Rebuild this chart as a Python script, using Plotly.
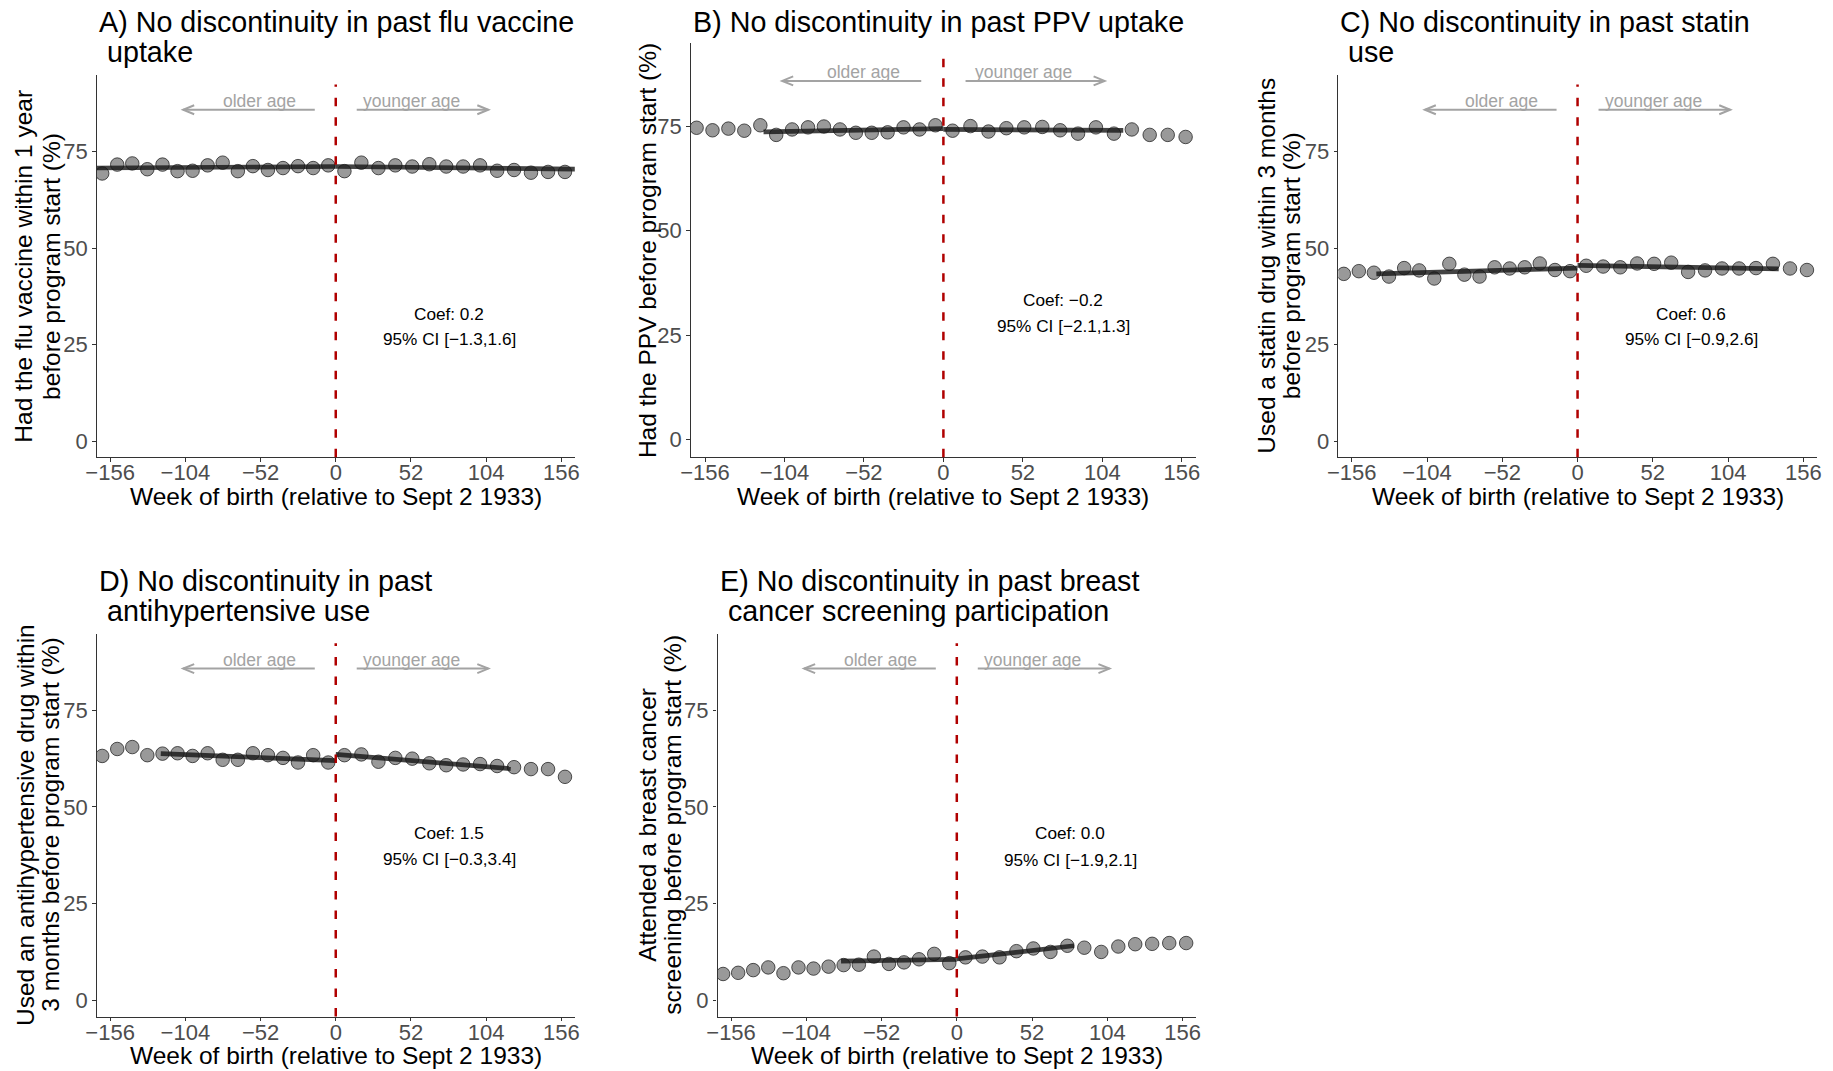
import plotly.graph_objects as go

W, H = 1833, 1071
FONT = "Liberation Sans, Arial, Helvetica, sans-serif"

# ---------------- data ----------------
week_left = [-161.5, -151.1, -140.7, -130.3, -119.8, -109.4, -99.0, -88.6,
             -78.2, -67.7, -57.3, -46.9, -36.5, -26.1, -15.6, -5.2]
week_right = [6.0, 17.7, 29.5, 41.2, 52.9, 64.7, 76.4, 88.1, 99.8, 111.6,
              123.3, 135.0, 146.8, 158.5]
x_ticks = [-156, -104, -52, 0, 52, 104, 156]
y_ticks = [0, 25, 50, 75]

flu_left = [69.3, 71.6, 71.9, 70.4, 71.6, 69.9, 70.0, 71.4, 72.1, 69.9, 71.2, 70.2, 70.7, 71.2, 70.7, 71.4]
flu_right = [69.9, 72.1, 70.7, 71.4, 71.1, 71.7, 71.1, 71.1, 71.4, 70.0, 70.2, 69.5, 69.7, 69.7]
flu_fit_left_x = [-170, 0]
flu_fit_left_y = [70.7, 71.1]
flu_fit_right_x = [0, 170]
flu_fit_right_y = [71.1, 70.4]

ppv_left = [74.6, 74.0, 74.4, 73.9, 75.2, 72.9, 74.2, 74.7, 74.9, 74.2, 73.4, 73.4, 73.5, 74.7, 74.2, 75.2]
ppv_right = [73.9, 75.0, 73.7, 74.5, 74.7, 74.8, 74.0, 73.2, 74.7, 73.2, 74.2, 72.9, 72.9, 72.4]
ppv_fit_left_x = [-117.7, 0]
ppv_fit_left_y = [73.6, 74.4]
ppv_fit_right_x = [0, 117.7]
ppv_fit_right_y = [74.2, 74.0]

statin_left = [43.3, 44.0, 43.6, 42.6, 44.8, 44.2, 42.1, 45.9, 43.1, 42.6, 45.0, 44.7, 45.0, 46.0, 44.3, 44.0]
statin_right = [45.4, 45.2, 45.0, 46.0, 45.9, 46.2, 43.8, 44.2, 44.7, 44.7, 44.8, 45.9, 44.7, 44.3]
statin_fit_left_x = [-139, 0]
statin_fit_left_y = [43.3, 44.8]
statin_fit_right_x = [0, 139]
statin_fit_right_y = [45.5, 44.6]

ah_left = [63.2, 65.0, 65.5, 63.4, 63.8, 63.9, 63.2, 63.9, 62.2, 62.2, 63.9, 63.4, 62.7, 61.5, 63.4, 61.5]
ah_right = [63.4, 63.6, 61.7, 62.7, 62.5, 61.3, 60.8, 61.0, 61.1, 60.6, 60.3, 59.8, 59.8, 57.8]
ah_fit_left_x = [-121, 0]
ah_fit_left_y = [63.8, 62.0]
ah_fit_right_x = [0, 121]
ah_fit_right_y = [63.6, 59.9]

br_left = [6.8, 7.1, 7.8, 8.5, 7.0, 8.5, 8.2, 8.7, 9.1, 9.2, 11.3, 9.4, 9.8, 10.6, 12.0, 9.6]
br_right = [11.1, 11.3, 11.1, 12.7, 13.4, 12.5, 14.1, 13.6, 12.5, 13.9, 14.5, 14.6, 14.8, 14.8]
br_fit_left_x = [-80, 0]
br_fit_left_y = [10.1, 10.6]
br_fit_right_x = [0, 81]
br_fit_right_y = [10.7, 14.1]

titles = [
    ["A) No discontinuity in past flu vaccine", "\u00a0uptake"],
    ["B) No discontinuity in past PPV uptake"],
    ["C) No discontinuity in past statin", "\u00a0use"],
    ["D) No discontinuity in past", "\u00a0antihypertensive use"],
    ["E) No discontinuity in past breast", "\u00a0cancer screening participation"],
]
y_titles = [
    ["Had the flu vaccine within 1 year", "before program start (%)"],
    ["Had the PPV before program start (%)"],
    ["Used a statin drug within 3 months", "before program start (%)"],
    ["Used an antihypertensive drug within", "3 months before program start (%)"],
    ["Attended a breast cancer", "screening before program start (%)"],
]
coef_texts = ["Coef: 0.2", "Coef: \u22120.2", "Coef: 0.6", "Coef: 1.5", "Coef: 0.0"]
ci_texts = ["95% CI [\u22121.3,1.6]", "95% CI [\u22122.1,1.3]", "95% CI [\u22120.9,2.6]",
            "95% CI [\u22120.3,3.4]", "95% CI [\u22121.9,2.1]"]
x_title = "Week of birth (relative to Sept 2 1933)"

# ---------------- layout geometry (pixels) ----------------
panels_px = [  # (left, right, top, bottom)
    (96.7, 574.8, 75.0, 457.3),
    (690.8, 1196.0, 43.3, 457.3),
    (1338.3, 1816.8, 75.0, 457.3),
    (96.7, 574.8, 633.8, 1016.5),
    (717.6, 1196.0, 633.8, 1016.5),
]
title_line_px = [(21.7, 51.7), (21.7,), (21.7, 51.7), (580.8, 611.3), (580.8, 611.3)]
ytitle_line_px = [(23.5, 50.8), (646.8,), (1266.5, 1291.0), (24.9, 50.6), (647.6, 671.7)]
coef_y = [(33.0, 26.4), (33.3, 27.1), (33.0, 26.4), (43.2, 36.6), (43.2, 36.4)]

series = [
    (flu_left, flu_right, flu_fit_left_x, flu_fit_left_y, flu_fit_right_x, flu_fit_right_y),
    (ppv_left, ppv_right, ppv_fit_left_x, ppv_fit_left_y, ppv_fit_right_x, ppv_fit_right_y),
    (statin_left, statin_right, statin_fit_left_x, statin_fit_left_y, statin_fit_right_x, statin_fit_right_y),
    (ah_left, ah_right, ah_fit_left_x, ah_fit_left_y, ah_fit_right_x, ah_fit_right_y),
    (br_left, br_right, br_fit_left_x, br_fit_left_y, br_fit_right_x, br_fit_right_y),
]

X_RANGE = [-165.3, 165.3]
Y_RANGE = [-4.2, 94.8]
ARROW_Y = 85.8
GREY_TXT = "#A3A3A3"

fig = go.Figure()
annotations = []
shapes = []
layout_axes = {}

point_marker = dict(size=13.5, color="rgba(0,0,0,0.40)",
                    line=dict(color="rgba(30,30,30,0.75)", width=1))
fit_line = dict(color="rgba(20,20,20,0.80)", width=4.7)

for i, (px, ser) in enumerate(zip(panels_px, series)):
    n = i + 1
    xa = "x" if n == 1 else f"x{n}"
    ya = "y" if n == 1 else f"y{n}"
    l, r, t, b = px
    left_y, right_y, flx, fly, frx, fry = ser

    fig.add_trace(go.Scatter(x=week_left + week_right, y=left_y + right_y,
                             mode="markers", marker=point_marker,
                             xaxis=xa, yaxis=ya, showlegend=False))
    fig.add_trace(go.Scatter(x=flx, y=fly, mode="lines", line=fit_line,
                             xaxis=xa, yaxis=ya, showlegend=False))
    fig.add_trace(go.Scatter(x=frx, y=fry, mode="lines", line=fit_line,
                             xaxis=xa, yaxis=ya, showlegend=False))

    axis_common = dict(showgrid=False, zeroline=False, showline=True,
                       linecolor="#333333", linewidth=1.3, ticks="outside",
                       ticklen=3.5, tickwidth=1.1, tickcolor="#333333",
                       automargin=False,
                       tickfont=dict(family=FONT, size=22, color="#4D4D4D"))
    layout_axes["xaxis" if n == 1 else f"xaxis{n}"] = dict(
        axis_common, domain=[l / W, r / W], anchor=ya, range=X_RANGE,
        tickmode="array", tickvals=x_ticks, ticklabelstandoff=-8)
    layout_axes["yaxis" if n == 1 else f"yaxis{n}"] = dict(
        axis_common, domain=[1 - b / H, 1 - t / H], anchor=xa, range=Y_RANGE,
        tickmode="array", tickvals=y_ticks)

    # red dashed cutoff line
    shapes.append(dict(type="line", xref=xa, yref=f"{ya} domain", x0=0, x1=0, y0=0, y1=0.975,
                       line=dict(color="#B00000", width=2.5, dash="8.5px,11px")))
    # direction arrows
    for x0, x1 in [(-14.5, -105.5), (14.5, 105.5)]:
        shapes.append(dict(type="line", xref=xa, yref=ya, x0=x0, x1=x1, y0=ARROW_Y, y1=ARROW_Y,
                           line=dict(color=GREY_TXT, width=2)))
        s = 1 if x1 < 0 else -1
        shapes.append(dict(type="path", xref=xa, yref=ya, xsizemode="pixel", ysizemode="pixel",
                           xanchor=x1, yanchor=ARROW_Y,
                           path=f"M {11*s},4.5 L 0,0 L {11*s},-4.5",
                           line=dict(color=GREY_TXT, width=2)))
    for txt, xc in [("older age", -52.4), ("younger age", 52.4)]:
        annotations.append(dict(text=txt, xref=xa, yref=ya, x=xc, y=ARROW_Y, yanchor="bottom",
                                yshift=-3, showarrow=False,
                                font=dict(family=FONT, size=17.5, color=GREY_TXT)))
    # coefficient text
    cy1, cy2 = coef_y[i]
    for txt, yy in [(coef_texts[i], cy1), (ci_texts[i], cy2)]:
        annotations.append(dict(text=txt, xref=xa, yref=ya, x=78.5, y=yy, showarrow=False,
                                font=dict(family=FONT, size=17.2, color="black")))
    # panel title lines
    for txt, yc in zip(titles[i], title_line_px[i]):
        annotations.append(dict(text=txt, xref="paper", yref="paper", x=l / W,
                                y=1 - yc / H, xanchor="left", yanchor="middle",
                                showarrow=False,
                                font=dict(family=FONT, size=28.7, color="black")))
    # y title lines
    for txt, xc in zip(y_titles[i], ytitle_line_px[i]):
        annotations.append(dict(text=txt, xref="paper", yref="paper",
                                x=xc / W, y=1 - (t + b) / 2 / H,
                                xanchor="center", yanchor="middle", textangle=-90,
                                showarrow=False,
                                font=dict(family=FONT, size=24.5, color="black")))
    # x title
    annotations.append(dict(text=x_title, xref="paper", yref="paper",
                            x=(l + r) / 2 / W, y=1 - (b + 39) / H,
                            xanchor="center", yanchor="middle", showarrow=False,
                            font=dict(family=FONT, size=24.5, color="black")))

fig.update_layout(
    template="none",
    width=W, height=H,
    margin=dict(l=0, r=0, t=0, b=0),
    paper_bgcolor="white", plot_bgcolor="white",
    font=dict(family=FONT),
    annotations=annotations, shapes=shapes,
    **layout_axes,
)

fig.write_html(
    "out.html",
    config={"displayModeBar": False},
    post_script="document.body.style.margin='0px';document.body.style.overflow='hidden';",
)
